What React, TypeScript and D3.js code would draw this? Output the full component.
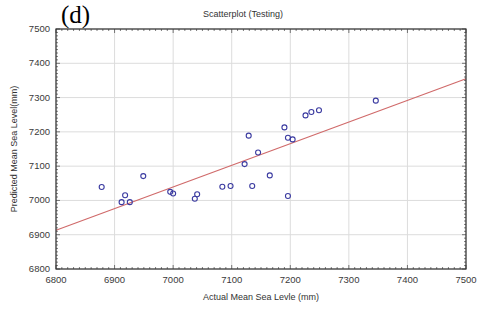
import * as d3 from 'd3'

const W = 480
const H = 309
const M = { top: 29, right: 14, bottom: 40, left: 56 }

const actual = [
  6878, 6912, 6918, 6926, 6949, 6995, 7000, 7037, 7041, 7084, 7098, 7122,
  7129, 7135, 7145, 7165, 7190, 7196, 7204, 7196, 7226, 7236, 7249, 7346
]
const predicted = [
  7039, 6995, 7015, 6995, 7071, 7025, 7020, 7005, 7018, 7040, 7042, 7106,
  7189, 7042, 7140, 7073, 7213, 7183, 7178, 7013, 7248, 7258, 7263, 7291
]

// fitted line end points
const fitX = [6800, 7500]
const fitY = [6913, 7355]

const xTicks = [6800, 6900, 7000, 7100, 7200, 7300, 7400, 7500]
const yTicks = [6800, 6900, 7000, 7100, 7200, 7300, 7400, 7500]

export default function App() {
  const iw = W - M.left - M.right
  const ih = H - M.top - M.bottom
  const x = d3.scaleLinear().domain([6800, 7500]).range([M.left, M.left + iw])
  const y = d3.scaleLinear().domain([6800, 7500]).range([M.top + ih, M.top])
  const minor = d3.range(6800, 7501, 10)

  const pts = actual.map((a, i) => ({ a, p: predicted[i] }))
  const fit = fitX.map((v, i) => [v, fitY[i]] as [number, number])
  const line = d3.line<[number, number]>().x(d => x(d[0])).y(d => y(d[1]))

  const tickFont = { fontFamily: 'Liberation Sans, Arial, sans-serif', fontSize: 9.5, fill: '#3a3a3a' }

  return (
    <svg width={W} height={H} style={{ position: 'absolute', left: 0, top: 0, background: '#fff' }}>
      {/* grid */}
      {xTicks.map(t => (
        <line key={'gx' + t} x1={x(t)} x2={x(t)} y1={M.top} y2={M.top + ih} stroke="#dcdcdc" strokeWidth={1} />
      ))}
      {yTicks.map(t => (
        <line key={'gy' + t} x1={M.left} x2={M.left + iw} y1={y(t)} y2={y(t)} stroke="#dcdcdc" strokeWidth={1} />
      ))}

      {/* minor ticks, inward on all four sides */}
      {minor.map(t => {
        const len = t % 100 === 0 ? 4 : 2
        return (
          <g key={'m' + t} stroke="#444" strokeWidth={0.7}>
            <line x1={x(t)} x2={x(t)} y1={M.top + ih} y2={M.top + ih - len} />
            <line x1={x(t)} x2={x(t)} y1={M.top} y2={M.top + len} />
            <line x1={M.left} x2={M.left + len} y1={y(t)} y2={y(t)} />
            <line x1={M.left + iw} x2={M.left + iw - len} y1={y(t)} y2={y(t)} />
          </g>
        )
      })}

      {/* fit line */}
      <path d={line(fit) ?? ''} fill="none" stroke="#d06a6a" strokeWidth={1.2} />

      {/* points */}
      {pts.map((d, i) => (
        <circle key={i} cx={x(d.a)} cy={y(d.p)} r={2.5} fill="none" stroke="#3a3aa0" strokeWidth={1.1} />
      ))}

      {/* frame */}
      <rect x={M.left} y={M.top} width={iw} height={ih} fill="none" stroke="#333" strokeWidth={1.2} />

      {/* tick labels */}
      {xTicks.map(t => (
        <text key={'xl' + t} x={x(t)} y={M.top + ih + 14} textAnchor="middle" {...tickFont}>{t}</text>
      ))}
      {yTicks.map(t => (
        <text key={'yl' + t} x={M.left - 6} y={y(t) + 3} textAnchor="end" {...tickFont}>{t}</text>
      ))}

      {/* titles */}
      <text x={243} y={17} textAnchor="middle" fontFamily="Liberation Sans, Arial, sans-serif" fontSize={9} fill="#333">
        Scatterplot (Testing)
      </text>
      <text x={M.left + iw / 2} y={300} textAnchor="middle" fontFamily="Liberation Sans, Arial, sans-serif" fontSize={9} fill="#333">
        Actual Mean Sea Levle (mm)
      </text>
      <text
        transform={`translate(17,${M.top + ih / 2}) rotate(-90)`}
        textAnchor="middle"
        fontFamily="Liberation Sans, Arial, sans-serif"
        fontSize={9}
        fill="#333"
      >
        Predicted Mean Sea Level(mm)
      </text>
      <text x={61} y={23} fontFamily="Liberation Serif, Times New Roman, serif" fontSize={25} fill="#000">
        (d)
      </text>
    </svg>
  )
}
